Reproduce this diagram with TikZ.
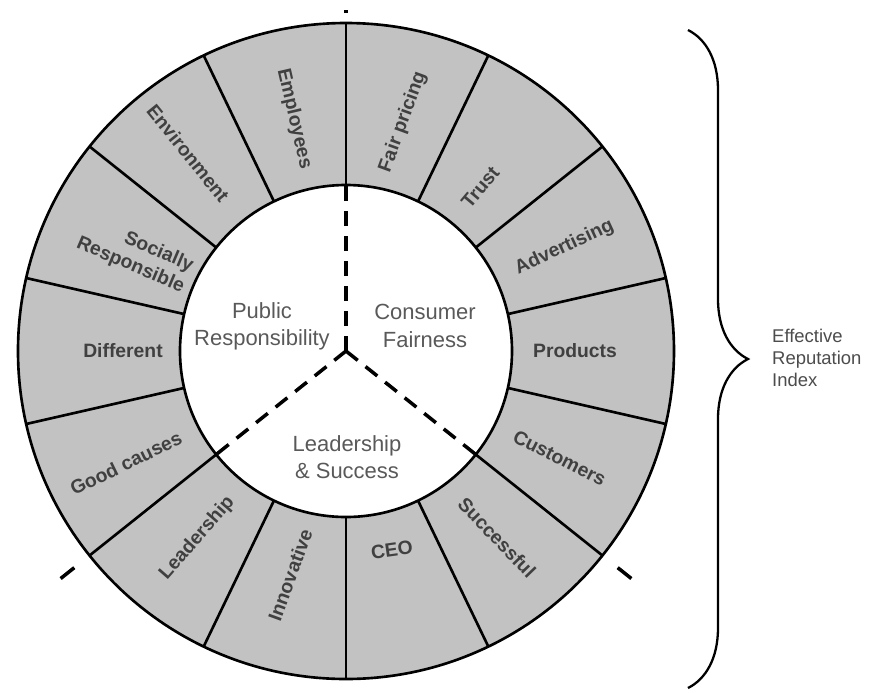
\documentclass[tikz,border=0pt]{standalone}
\usepackage{fontspec}
\setmainfont{Liberation Sans}
\usepackage{tikz}
\usetikzlibrary{decorations.pathreplacing}

\begin{document}
\begin{tikzpicture}[
		ring/.style={draw, line width=1.5pt, fill=black!24, even odd rule},
		divider/.style={line width=1.5pt},
		sector/.style={line width=2pt, dash pattern=on 0.3cm off 0.2cm},
		tick/.style={line width=2pt},
		seg/.style={font=\bfseries\fontsize{11}{13}\selectfont, text=black!75, inner sep=0pt},
		core/.style={font=\fontsize{12.5}{15.5}\selectfont, text=black!65, align=center},
		brace/.style={decorate, decoration={brace, amplitude=1.2cm, aspect=0.5}, line width=1.3pt}
	]
		\useasboundingbox (-6.92,-6.82) rectangle (10.74,7.02);
		
		% Ring
		\coordinate (c) at (0,0);
		\path[ring] (c) circle (6.56) (c) circle (3.32);
		\foreach \k in {0,...,13}
			\draw[divider] ({90-\k*360/14}:3.32) -- ({90-\k*360/14}:6.56);
		
		% Ring labels
		\node[seg, rotate=-77] (employees) at (102.6:4.76) {Employees};
		\node[seg, rotate=70] (fairpricing) at (76:4.72) {Fair pricing};
		\node[seg, rotate=50] (trust) at (50.7:4.24) {Trust};
		\node[seg, rotate=25] (advertising) at (25.4:4.84) {Advertising};
		\node[seg] (products) at (0:4.58) {Products};
		\node[seg, rotate=-27] (customers) at (-26.6:4.78) {Customers};
		\node[seg, rotate=-46] (successful) at (-51:4.8) {Successful};
		\node[seg, rotate=8] (ceo) at (-77:4.08) {CEO};
		\node[seg, rotate=70] (innovative) at (-104:4.62) {Innovative};
		\node[seg, rotate=49] (leadership) at (-128.5:4.78) {Leadership};
		\node[seg, rotate=26] (goodcauses) at (-153:4.94) {Good causes};
		\node[seg] (different) at (180:4.46) {Different};
		\node[seg, rotate=-23, align=right] (social) at (155.5:4.64) {Socially\\Responsible};
		\node[seg, rotate=-51] (environment) at (128.6:5.06) {Environment};
		
		% Three sectors
		\node[core] (public) at (-1.68,0.5) {Public\\Responsibility};
		\node[core] (consumer) at (1.58,0.5) {Consumer\\Fairness};
		\node[core] (lead) at (0.02,-2.12) {Leadership\\\& Success};
		
		\draw[sector] (c) -- (90:3.32);
		\draw[sector] (c) -- (-38.57:3.32);
		\draw[sector] (c) -- (-141.43:3.32);
		
		% Marks outside the ring
		\coordinate (top1) at (90:6.76);
		\coordinate (top2) at (90:6.82);
		\coordinate (left1) at (-141.43:6.95);
		\coordinate (left2) at (-141.43:7.3);
		\coordinate (right1) at (-38.57:6.95);
		\coordinate (right2) at (-38.57:7.3);
		\draw[tick] (top1) -- (top2);
		\draw[tick] (left1) -- (left2);
		\draw[tick] (right1) -- (right2);
		
		% Brace
		\coordinate (btop) at (6.84,6.42);
		\coordinate (bbot) at (6.84,-6.74);
		\draw[brace] (btop) -- (bbot);
		\node[anchor=west, align=left, font=\fontsize{10.5}{12.5}\selectfont, text=black!70] (index) at (8.4,-0.14) {Effective\\Reputation\\Index};
	\end{tikzpicture}
\end{document}
